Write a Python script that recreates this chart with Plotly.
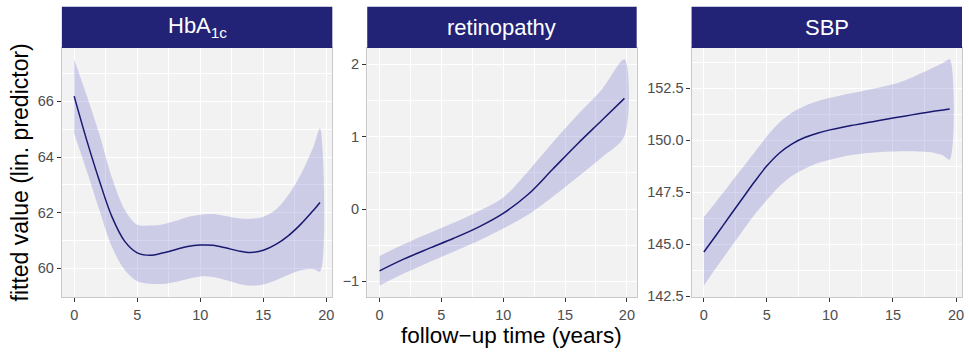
import plotly.graph_objects as go

# ---------------- data ----------------
panels = ["HbA<sub>1c</sub>", "retinopathy", "SBP"]

hba_x = [0, 1, 2, 3, 4, 5, 6, 7, 8, 9, 10, 11, 12, 13, 14, 15, 16, 17, 18, 19, 19.5]
hba_fit = [66.19, 64.6, 63.15, 61.85, 60.98, 60.56, 60.47, 60.55, 60.67, 60.79, 60.84,
           60.83, 60.74, 60.63, 60.57, 60.65, 60.86, 61.18, 61.6, 62.1, 62.37]
hba_upr = [67.51, 66.2, 64.82, 63.26, 62.12, 61.57, 61.54, 61.58, 61.7, 61.85, 61.93,
           61.95, 61.88, 61.8, 61.78, 61.86, 62.12, 62.65, 63.4, 64.4, 65.03]
hba_lwr = [64.85, 63.5, 62.1, 60.77, 59.95, 59.54, 59.45, 59.44, 59.51, 59.62, 59.71,
           59.69, 59.58, 59.45, 59.38, 59.42, 59.57, 59.77, 59.93, 59.97, 59.89]

ret_x = [0, 2, 4, 6, 8, 10, 12, 14, 16, 18, 19.8]
ret_fit = [-0.855, -0.69, -0.545, -0.405, -0.25, -0.06, 0.2, 0.55, 0.9, 1.23, 1.53]
ret_upr = [-0.65, -0.485, -0.335, -0.19, -0.03, 0.16, 0.52, 0.92, 1.3, 1.66, 2.07]
ret_lwr = [-1.06, -0.89, -0.735, -0.59, -0.44, -0.27, -0.08, 0.17, 0.44, 0.72, 1.01]

sbp_x = [0, 1, 2, 3, 4, 5, 6, 7, 8, 9, 10, 11, 12, 13, 14, 15, 16, 17, 18, 19, 19.5]
sbp_fit = [144.62, 145.45, 146.3, 147.14, 147.98, 148.76, 149.38, 149.82, 150.12, 150.33,
           150.49, 150.62, 150.73, 150.84, 150.95, 151.06, 151.16, 151.26, 151.36, 151.45, 151.49]
sbp_upr = [146.3, 147.06, 147.84, 148.62, 149.39, 150.18, 150.84, 151.32, 151.64, 151.86,
           152.03, 152.17, 152.29, 152.41, 152.54, 152.68, 152.88, 153.15, 153.43, 153.72, 153.88]
sbp_lwr = [143.0, 143.88, 144.73, 145.57, 146.4, 147.12, 147.78, 148.28, 148.62, 148.88,
           149.05, 149.2, 149.3, 149.38, 149.43, 149.45, 149.46, 149.45, 149.41, 149.25, 149.06]

y_dticks = [2, 1, 2.5]
y_formats = ["d", "d", ".1f"]
x_title = "follow\u2212up time (years)"
y_title = "fitted value (lin. predictor)"

series = [
    (hba_x, hba_fit, hba_upr, hba_lwr),
    (ret_x, ret_fit, ret_upr, ret_lwr),
    (sbp_x, sbp_fit, sbp_upr, sbp_lwr),
]

# ---------------- layout geometry ----------------
W, H = 969, 352
px_dom = [(62, 333), (368, 638), (693, 964)]
top_px, bot_px, strip_top_px = 49, 303, 7
y_dom = [(H - bot_px) / H, (H - top_px) / H]
strip_top = (H - strip_top_px) / H

LINE = "#191970"
BAND = "rgba(102,102,204,0.27)"
STRIP = "#222277"
PANEL_BG = "#F2F2F2"
BORDER = "#C8C8C8"
FONT = "Liberation Sans, Arial, sans-serif"

fig = go.Figure()
layout = dict(
    width=W, height=H,
    margin=dict(l=0, r=0, t=0, b=0),
    paper_bgcolor="white",
    plot_bgcolor=PANEL_BG,
    showlegend=False,
    font=dict(family=FONT),
    shapes=[], annotations=[],
)

for i, (xs, fit, upr, lwr) in enumerate(series):
    n = "" if i == 0 else str(i + 1)
    xa, ya = "x" + n, "y" + n
    # band
    fig.add_trace(go.Scatter(
        x=list(xs) + list(xs)[::-1], y=list(upr) + list(lwr)[::-1],
        mode="lines", fill="toself", fillcolor=BAND,
        line=dict(width=0, shape="spline", smoothing=0.9),
        xaxis=xa, yaxis=ya, hoverinfo="skip"))
    # fitted line
    fig.add_trace(go.Scatter(
        x=xs, y=fit, mode="lines",
        line=dict(color=LINE, width=1.5, shape="spline", smoothing=1.0),
        xaxis=xa, yaxis=ya))

    xmin, xmax = min(xs), max(xs)
    xr = xmax - xmin
    ymin, ymax = min(lwr), max(upr)
    yr = ymax - ymin
    d0, d1 = px_dom[i]
    common = dict(
        showline=True, linecolor=BORDER, linewidth=1.3, mirror=True,
        showgrid=True, gridcolor="white", gridwidth=1.1, zeroline=False,
        ticks="outside", ticklen=4, tickwidth=1, tickcolor="#333333",
        tickfont=dict(size=14.5, color="#4D4D4D", family=FONT),
        fixedrange=True,
    )
    layout["xaxis" + n] = dict(
        common, domain=[d0 / W, d1 / W], anchor=ya,
        range=[xmin - 0.05 * xr, xmax + 0.05 * xr],
        tick0=0, dtick=5,
        minor=dict(tick0=0, dtick=2.5, showgrid=True, gridcolor="white", gridwidth=0.6, ticklen=0),
    )
    layout["yaxis" + n] = dict(
        common, domain=y_dom, anchor=xa,
        range=[ymin - 0.05 * yr, ymax + 0.05 * yr],
        tick0=0, dtick=y_dticks[i], tickformat=y_formats[i],
        minor=dict(tick0=0, dtick=y_dticks[i] / 2, showgrid=True, gridcolor="white", gridwidth=0.6, ticklen=0),
    )
    # strip
    layout["shapes"].append(dict(
        type="rect", xref="paper", yref="paper",
        x0=d0 / W, x1=d1 / W, y0=y_dom[1], y1=strip_top,
        fillcolor=STRIP, line=dict(width=0), layer="above"))
    layout["annotations"].append(dict(
        xref="paper", yref="paper", x=(d0 + d1) / 2 / W, y=(H - 28) / H,
        text=panels[i], showarrow=False, xanchor="center", yanchor="middle",
        font=dict(size=22, color="white", family=FONT)))

layout["annotations"].append(dict(
    xref="paper", yref="paper", x=(px_dom[0][0] + px_dom[2][1]) / 2 / W, y=(H - 342) / H,
    text=x_title, showarrow=False, xanchor="center", yanchor="middle",
    font=dict(size=22.5, color="black", family=FONT)))
layout["annotations"].append(dict(
    xref="paper", yref="paper", x=20 / W, y=(H - 176) / H,
    text=y_title, showarrow=False, xanchor="center", yanchor="middle", textangle=-90,
    font=dict(size=23, color="black", family=FONT)))

fig.update_layout(**layout)
fig.write_html("out.html")
